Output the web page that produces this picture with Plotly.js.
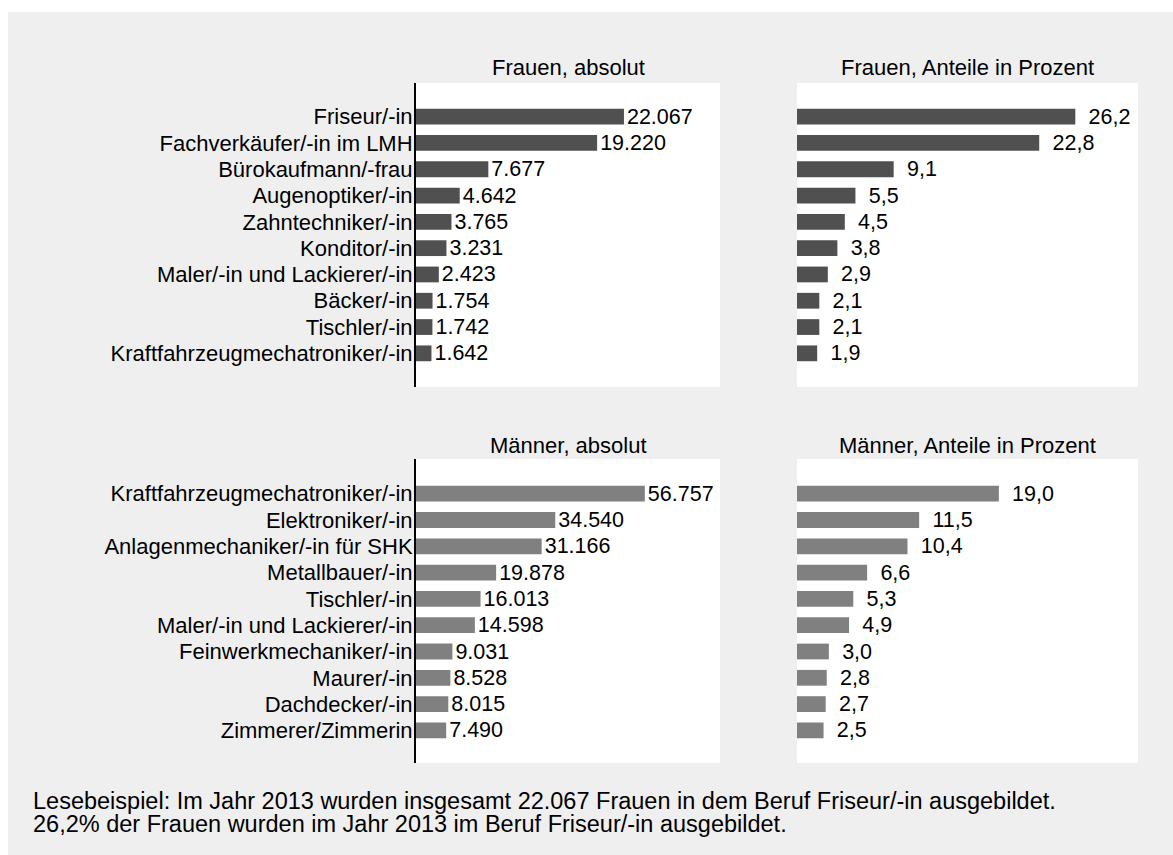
<!DOCTYPE html>
<html>
<head>
<meta charset="utf-8">
<script src="https://cdn.plot.ly/plotly-3.0.1.min.js"></script>
<style>html,body{margin:0;padding:0;background:#fff;}#chart{width:1173px;height:855px;}</style>
</head>
<body>
<div id="chart"></div>
<script>
const frauenBerufe = ["Friseur/-in","Fachverkäufer/-in im LMH","Bürokaufmann/-frau","Augenoptiker/-in","Zahntechniker/-in","Konditor/-in","Maler/-in und Lackierer/-in","Bäcker/-in","Tischler/-in","Kraftfahrzeugmechatroniker/-in"];
const frauenAbsolut = [22067,19220,7677,4642,3765,3231,2423,1754,1742,1642];
const frauenProzent = [26.2,22.8,9.1,5.5,4.5,3.8,2.9,2.1,2.1,1.9];

const maennerBerufe = ["Kraftfahrzeugmechatroniker/-in","Elektroniker/-in","Anlagenmechaniker/-in für SHK","Metallbauer/-in","Tischler/-in","Maler/-in und Lackierer/-in","Feinwerkmechaniker/-in","Maurer/-in","Dachdecker/-in","Zimmerer/Zimmerin"];
const maennerAbsolut = [56757,34540,31166,19878,16013,14598,9031,8528,8015,7490];
const maennerProzent = [19.0,11.5,10.4,6.6,5.3,4.9,3.0,2.8,2.7,2.5];

const titles = ["Frauen, absolut","Frauen, Anteile in Prozent","Männer, absolut","Männer, Anteile in Prozent"];
const footnote = ["Lesebeispiel: Im Jahr 2013 wurden insgesamt 22.067 Frauen in dem Beruf Friseur/-in ausgebildet.",
                  "26,2% der Frauen wurden im Jahr 2013 im Beruf Friseur/-in ausgebildet."];

const W = 1173, H = 855;
const FONT = "Liberation Sans, Arial, sans-serif";
const FS = 22, FV = 21.5, FF = 23.5;
const dark = "#505050", light = "#808080";

function px(x){ return x / W; }
function py(y){ return 1 - y / H; }

const colL = [px(416), px(720)], colR = [px(797), px(1138)];
const rowT = [py(387), py(83)], rowB = [py(763), py(459)];

function bar(x, y, xa, ya, color, tmpl){
  return {type:"bar", orientation:"h", x:x, y:y, xaxis:xa, yaxis:ya,
    marker:{color:color}, width:0.6,
    text:x, texttemplate:tmpl, textposition:"outside", cliponaxis:false,
    constraintext:"none",
    textfont:{family:FONT, size:FV, color:"#000"},
    hoverinfo:"skip", showlegend:false};
}
const pctT = "\u00a0\u2009%{x:.1f}";
const data = [
  bar(frauenAbsolut, frauenBerufe, "x", "y", dark, "%{x:,}"),
  bar(frauenProzent, frauenBerufe, "x2", "y2", dark, pctT),
  bar(maennerAbsolut, maennerBerufe, "x3", "y3", light, "%{x:,}"),
  bar(maennerProzent, maennerBerufe, "x4", "y4", light, pctT)
];

function xax(dom, max, anchor){
  return {domain:dom, anchor:anchor, range:[0,max], showticklabels:false, showgrid:false, zeroline:false, showline:false, ticks:"", fixedrange:true};
}
function yax(dom, anchor, labels, range){
  return {domain:dom, anchor:anchor, type:"category", range:range,
    showticklabels:labels, showgrid:false, zeroline:false,
    showline:labels, linecolor:"#000", linewidth:2, ticks:"",
    ticklabelstandoff:-3,
    tickfont:{family:FONT, size:FS, color:"#000"}, fixedrange:true};
}
const rT = [10.28, -1.28], rB = [10.24, -1.32];

const annotations = [];
const tpos = [[ (416+720)/2, 68 ], [ (797+1138)/2, 68 ], [ (416+720)/2, 445 ], [ (797+1138)/2, 445 ]];
titles.forEach((t,i)=>{
  annotations.push({text:t, xref:"paper", yref:"paper", x:px(tpos[i][0]), y:py(tpos[i][1]),
    xanchor:"center", yanchor:"middle", showarrow:false, font:{family:FONT, size:FS, color:"#000"}});
});
footnote.forEach((t,i)=>{
  annotations.push({text:t, xref:"paper", yref:"paper", x:px(31), y:py(801 + i*22.5),
    xanchor:"left", yanchor:"middle", showarrow:false, font:{family:FONT, size:FF, color:"#000"}});
});

const shapes = [{type:"rect", xref:"paper", yref:"paper", x0:px(8), x1:1, y0:0, y1:py(12),
    fillcolor:"#efefef", line:{width:0}, layer:"below"}];
[[colL,rowT],[colR,rowT],[colL,rowB],[colR,rowB]].forEach(([c,r])=>{
  shapes.push({type:"rect", xref:"paper", yref:"paper", x0:c[0], x1:c[1], y0:r[0], y1:r[1],
    fillcolor:"#ffffff", line:{width:0}, layer:"below"});
});

const layout = {
  width:W, height:H, margin:{l:0,r:0,t:0,b:0},
  paper_bgcolor:"#ffffff", plot_bgcolor:"rgba(0,0,0,0)",
  separators:",.",
  font:{family:FONT, size:FS, color:"#000"},
  xaxis:xax(colL, 32260, "y"), yaxis:yax(rowT, "x", true, rT),
  xaxis2:xax(colR, 32.1, "y2"), yaxis2:yax(rowT, "x2", false, rT),
  xaxis3:xax(colL, 75400, "y3"), yaxis3:yax(rowB, "x3", true, rB),
  xaxis4:xax(colR, 32.1, "y4"), yaxis4:yax(rowB, "x4", false, rB),
  shapes:shapes,
  annotations:annotations
};

Plotly.newPlot("chart", data, layout, {displayModeBar:false, staticPlot:true});
</script>
</body>
</html>
